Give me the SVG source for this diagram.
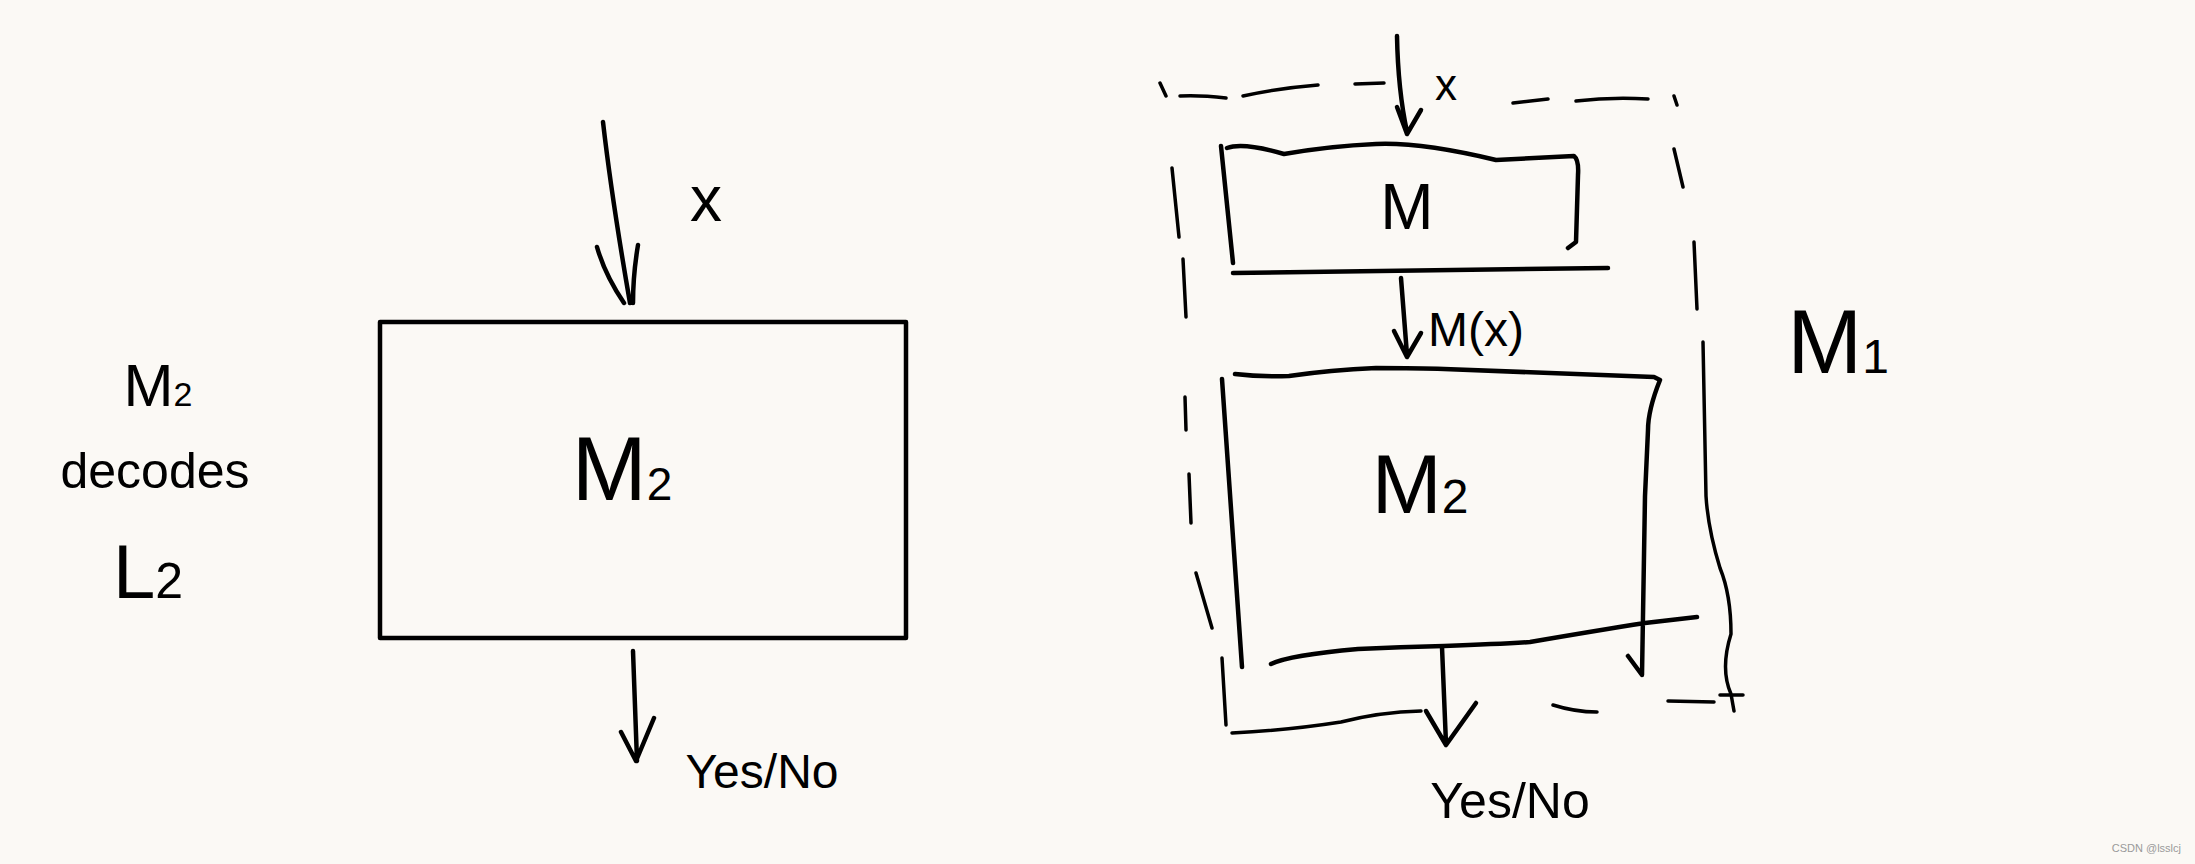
<svg xmlns="http://www.w3.org/2000/svg" width="2195" height="864" viewBox="0 0 2195 864">
<style>
.ink{fill:none;stroke:#000;stroke-width:4.5;stroke-linecap:round;stroke-linejoin:round}
.thin{fill:none;stroke:#000;stroke-width:3.5;stroke-linecap:round;stroke-linejoin:round}
.t{font-family:"Liberation Sans",Arial,sans-serif;fill:#000;text-anchor:middle}
.wm{font-family:"Liberation Sans",Arial,sans-serif;fill:#9a9a9a;font-size:11px;text-anchor:end}
</style>
<rect width="2195" height="864" fill="#fbf9f5"/>

<g id="left-note">
<text class="t" x="158" y="406" font-size="60">M<tspan font-size="34">2</tspan></text>
<text class="t" x="155" y="488" font-size="50">decodes</text>
<text class="t" x="148" y="598" font-size="76">L<tspan font-size="50">2</tspan></text>
</g>

<g id="m2-left">
<rect x="380" y="322" width="526" height="316" class="ink" stroke-width="5.5"/>
<text class="t" x="622" y="500" font-size="90">M<tspan font-size="46">2</tspan></text>
</g>

<g id="m1-outer">
<path class="thin" d="M1160 83 L1166 96 M1180 96 Q1200 95 1226 98 M1243 96 Q1280 88 1318 85 M1355 84 L1384 83 M1513 103 L1548 99 M1576 101 Q1610 97 1648 99 M1674 96 L1677 105 M1172 168 L1179 237 M1183 259 L1186 317 M1185 397 L1186 430 M1189 474 L1191 523 M1196 573 L1212 628 M1222 658 L1226 725 M1232 733 Q1290 730 1341 722 Q1380 712 1421 711 M1553 705 Q1575 712 1597 712 M1668 701 L1714 702 M1720 695 L1743 695 M1674 149 L1683 187 M1694 242 L1697 309 M1703 342 L1706 496 Q1708 529 1720 568 Q1731 595 1731 634 Q1720 669 1731 694 L1734 711"/>
<text class="t" x="1838" y="373" font-size="90">M<tspan font-size="48">1</tspan></text>
</g>

<g id="m-box">
<path class="ink" d="M1221 146 L1233 263 M1227 148 Q1243 142 1284 154 Q1330 146 1376 144 Q1421 142 1496 160 L1574 156 Q1579 160 1578 175 L1576 242 L1568 248 M1233 273 L1608 268"/>
<text class="t" x="1407" y="229" font-size="64">M</text>
</g>

<g id="m2-right">
<path class="ink" d="M1235 374 Q1260 377 1289 376 Q1330 370 1376 368 Q1420 368 1444 369 L1654 377 L1660 380 Q1648 410 1648 430 L1645 496 L1642 675 L1628 656 M1222 379 L1242 667 M1271 664 Q1290 655 1358 649 Q1400 647 1444 646 Q1500 644 1530 642 Q1600 630 1645 623 L1697 617"/>
<text class="t" x="1420" y="513" font-size="84">M<tspan font-size="48">2</tspan></text>
</g>

<g id="connectors">
<path class="ink" d="M603 122 Q612 200 630 303 M597 247 Q605 275 624 303 M638 245 Q633 275 633 303"/>
<path class="ink" d="M633 651 L637 761 M621 732 L636 761 M654 718 L636 761"/>
<path class="ink" d="M1397 36 Q1398 90 1407 132 M1397 107 L1407 134 M1421 110 L1407 134"/>
<path class="ink" d="M1401 278 L1407 355 M1394 331 L1407 357 M1421 333 L1407 357"/>
<path class="ink" d="M1442 647 L1446 744 M1426 711 L1446 745 M1476 703 L1446 745"/>
</g>

<g id="labels">
<text class="t" x="706" y="221" font-size="64">x</text>
<text class="t" x="762" y="788" font-size="48">Yes/No</text>
<text class="t" x="1446" y="100" font-size="44">x</text>
<text class="t" x="1476" y="346" font-size="48">M(x)</text>
<text class="t" x="1510" y="818" font-size="50">Yes/No</text>
</g>

<text class="wm" x="2181" y="852">CSDN @lsslcj</text>
</svg>
